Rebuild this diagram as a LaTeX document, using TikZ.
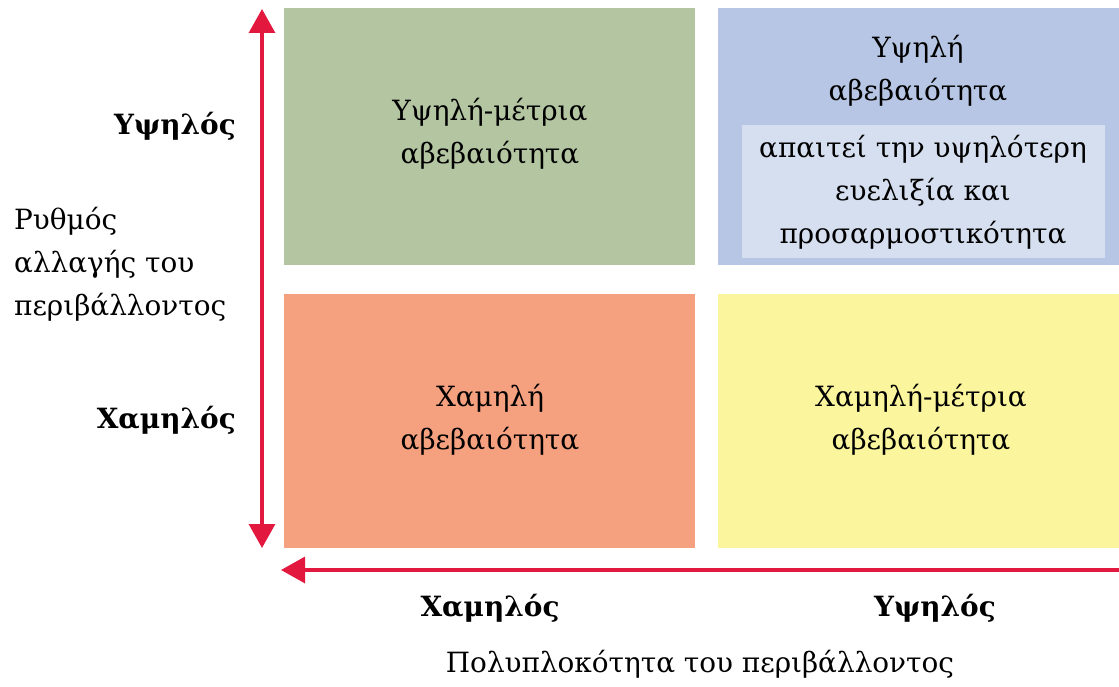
\documentclass[tikz,border=0pt]{standalone}
\usepackage{fontspec}
\setmainfont{DejaVu Serif}
\usetikzlibrary{arrows.meta}
\definecolor{qgreen}{HTML}{B3C5A1}
\definecolor{qblue}{HTML}{B6C6E4}
\definecolor{qinner}{HTML}{D6DFF0}
\definecolor{qorange}{HTML}{F5A17F}
\definecolor{qyellow}{HTML}{FBF69D}
\definecolor{qred}{HTML}{E2183E}
\begin{document}
\begin{tikzpicture}[x=1bp,y=-1bp,
  quad/.style={anchor=north west, inner sep=0pt, minimum width=#1},
  txt/.style={font=\fontsize{28}{43}\selectfont, align=center, inner sep=0pt},
  axlbl/.style={font=\fontsize{28}{43}\selectfont\bfseries, inner sep=0pt},
  redarrow/.style={draw=qred, line width=3.2bp, -{Triangle[width=26bp,length=24bp]}}]
\useasboundingbox (0,0) rectangle (1119,687);
\node[quad=411bp, minimum height=257bp, fill=qgreen] (g) at (284,8) {};
\node[quad=401bp, minimum height=257bp, fill=qblue] (b) at (718,8) {};
\node[quad=411bp, minimum height=254bp, fill=qorange] (o) at (284,294) {};
\node[quad=401bp, minimum height=254bp, fill=qyellow] (y) at (718,294) {};
\node[quad=363bp, minimum height=133bp, fill=qinner] (bi) at (742,125) {};
\node[txt] (gt) at (490,134) {Υψηλή-μέτρια\\αβεβαιότητα};
\node[txt] (bt) at (918,71) {Υψηλή\\αβεβαιότητα};
\node[txt] (bit) at (923,192) {απαιτεί την υψηλότερη\\ευελιξία και\\προσαρμοστικότητα};
\node[txt] (ot) at (490,420) {Χαμηλή\\αβεβαιότητα};
\node[txt] (yt) at (921,420) {Χαμηλή-μέτρια\\αβεβαιότητα};
\coordinate (vt) at (262,9);
\coordinate (vb) at (262,548);
\coordinate (hl) at (281,570);
\coordinate (hr) at (1119,570);
\draw[redarrow, {Triangle[width=26bp,length=24bp]}-{Triangle[width=26bp,length=24bp]}] (vt) -- (vb);
\draw[redarrow] (hr) -- (hl);
\node[axlbl, anchor=east] (yh) at (236,126) {Υψηλός};
\node[axlbl, anchor=east] (yl) at (236,420) {Χαμηλός};
\node[txt, align=left, anchor=north west] (yax) at (14,207) {Ρυθμός\\αλλαγής του\\περιβάλλοντος};
\node[axlbl] (xl) at (490,608) {Χαμηλός};
\node[axlbl] (xh) at (935,608) {Υψηλός};
\node[txt] (xax) at (700,664) {Πολυπλοκότητα του περιβάλλοντος};
\end{tikzpicture}
\end{document}
